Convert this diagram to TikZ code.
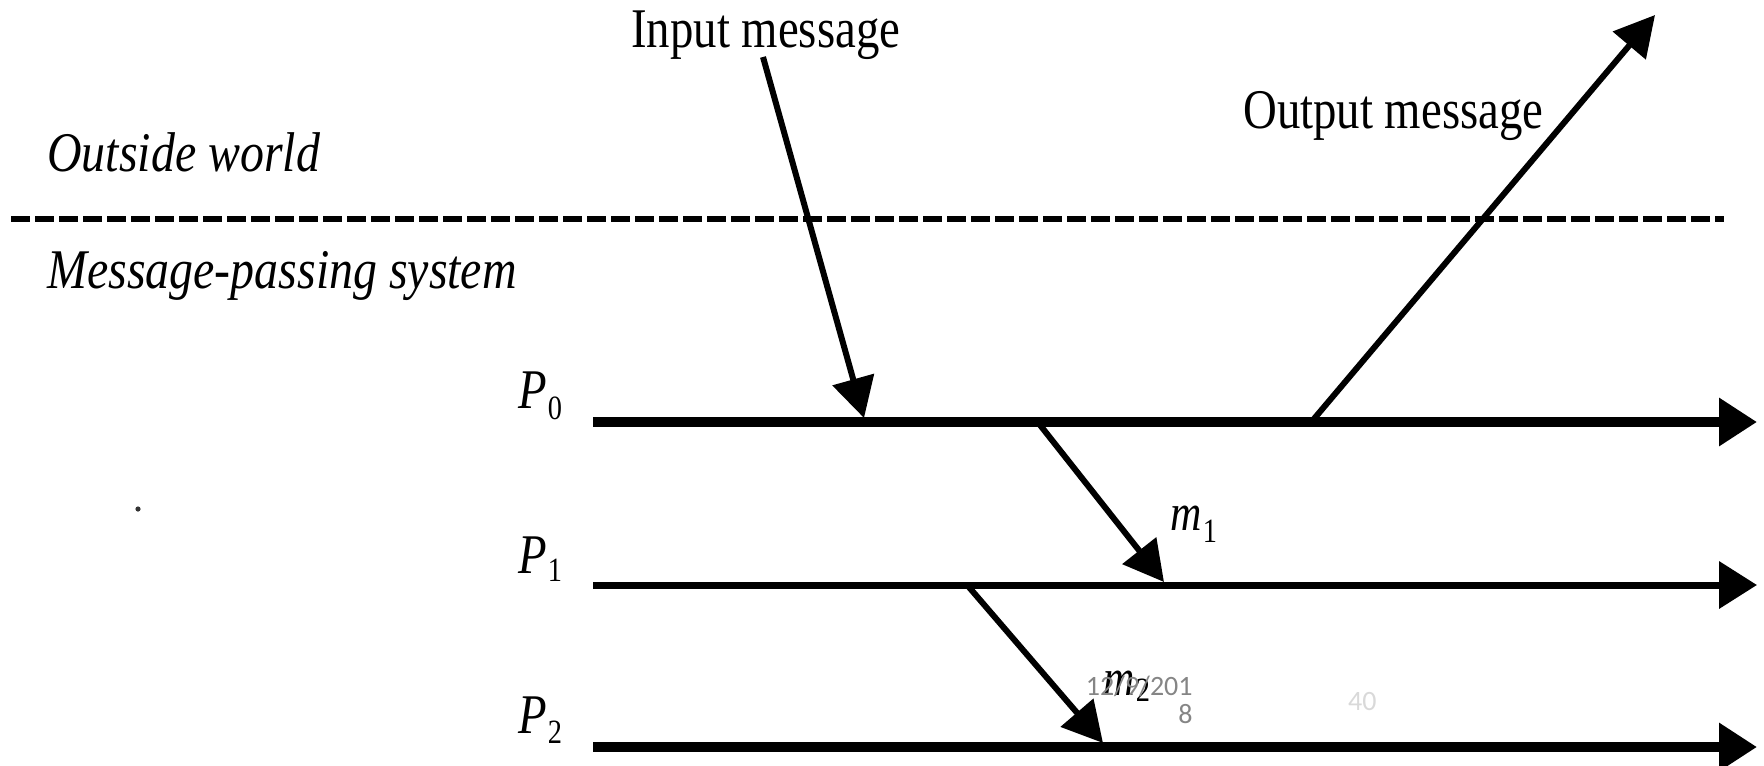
\documentclass[tikz,border=0pt]{standalone}
\usepackage{fontspec}
\setmainfont[FakeStretch=0.835]{Liberation Serif}
\newfontfamily\itserif[FakeStretch=0.855]{Liberation Serif}
\newfontfamily\datefont{Carlito}
\usetikzlibrary{arrows.meta}
\definecolor{dategray}{HTML}{858585}
\definecolor{pagegray}{HTML}{D9D9D9}
\newcommand\lowsub[2]{\kern0.5pt\raisebox{-#1}{\fontsize{17}{17}\selectfont\upshape #2}}
\tikzset{
  lbl/.style={anchor=base west, inner sep=0pt, font=\fontsize{28}{30}\selectfont},
  ital/.style={anchor=base west, inner sep=0pt, font=\itserif\fontsize{28}{30}\selectfont\itshape},
  plbl/.style={anchor=base west, inner sep=0pt, font=\fontsize{28}{30}\selectfont\itshape},
  mlbl/.style={anchor=base west, inner sep=0pt, font=\fontsize{26}{28}\selectfont\itshape},
  procline/.style={line width=5pt, -{Triangle[length=19pt,width=23pt]}},
  thinproc/.style={line width=3.5pt, -{Triangle[length=19pt,width=23pt]}},
  msg/.style={line width=3pt, -{Triangle[length=20pt,width=21pt]}},
  sepline/.style={line width=2.8pt, dash pattern=on 9.5pt off 2.5pt},
  footer/.style={anchor=base east, inner sep=0pt, font=\datefont\fontsize{14}{15}\selectfont, text=dategray},
}
\begin{document}
\begin{tikzpicture}[x=0.5pt,y=-0.5pt]
\useasboundingbox (0,0) rectangle (1764,765);

% separator
\coordinate (sepL) at (11,219);
\coordinate (sepR) at (1724,219);
\draw[sepline] (sepL) -- (sepR);

% process lines
\coordinate (p0s) at (593,422);
\coordinate (p0e) at (1757,422);
\coordinate (p1s) at (593,585);
\coordinate (p1e) at (1757,585);
\coordinate (p2s) at (593,747);
\coordinate (p2e) at (1757,747);
\draw[procline] (p0s) -- (p0e);
\draw[thinproc] (p1s) -- (p1e);
\draw[procline] (p2s) -- (p2e);

% labels
\node[lbl] (inlbl) at (631,48) {Input message};
\node[lbl] (outlbl) at (1243,128) {Output message};
\node[ital] (outside) at (47,171) {Outside world};
\node[ital] (mps) at (47,288) {Message-passing system};

\node[plbl] (P0) at (518,408) {P\lowsub{5.5pt}{0}};
\node[plbl] (P1) at (518,573) {P\lowsub{4pt}{1}};
\node[plbl] (P2) at (518,733) {P\lowsub{5pt}{2}};

% messages
\coordinate (inS) at (763,57);
\coordinate (inT) at (864,418);
\coordinate (outS) at (1313,420);
\coordinate (outT) at (1655,15);
\coordinate (m1S) at (1040,425);
\coordinate (m1T) at (1164,582);
\coordinate (m2S) at (968,586);
\coordinate (m2T) at (1103,743);
\draw[msg] (inS) -- (inT);
\draw[msg] (outS) -- (outT);
\draw[msg] (m1S) -- (m1T);
\draw[msg] (m2S) -- (m2T);

\node[mlbl] (m1) at (1170,530) {m\lowsub{6pt}{1}};
\node[mlbl] (m2) at (1103,695) {m\lowsub{3pt}{2}};

% stray dot
\fill[black!80] (138,509) circle (1.3pt);

% footer
\node[footer] (date1) at (1193,695) {12/9/201};
\node[footer] (date2) at (1193,723) {8};
\node[footer, text=pagegray] (page) at (1377,710) {40};
\end{tikzpicture}
\end{document}
